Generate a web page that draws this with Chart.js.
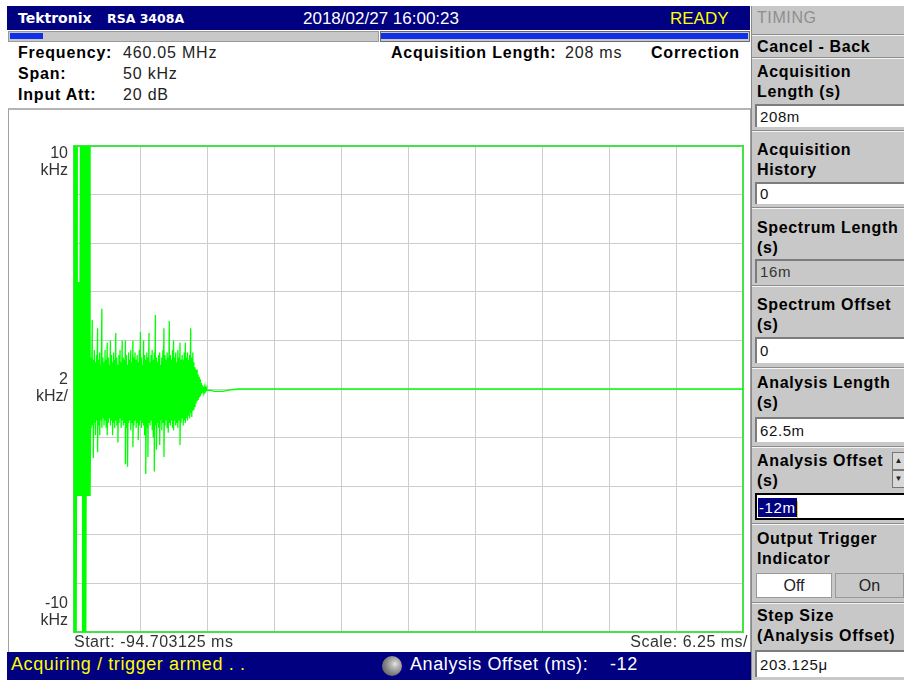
<!DOCTYPE html>
<html>
<head>
<meta charset="utf-8">
<script src="https://cdn.jsdelivr.net/npm/chart.js@4.4.1/dist/chart.umd.min.js"></script>
<style>
body { margin: 0; width: 904px; height: 680px; background: #fff; position: relative; overflow: hidden; font-family: "Liberation Sans", Arial, sans-serif; color: #222; }
.abs { position: absolute; white-space: nowrap; }
.bold { font-weight: bold; color: #000; letter-spacing: 0.7px; }
.hdr { font-size: 16px; line-height: 21px; letter-spacing: 0.8px; }
.side { font-size: 16px; line-height: 20px; font-weight: bold; color: #000; left: 757px; letter-spacing: 0.65px; }
.sep { left: 752px; width: 152px; height: 1px; background: #f4f4f4; border-top: 1px solid #8c8c8c; }
.box { left: 755px; width: 149px; background: #fff; border-top: 2px solid #7c7c7c; border-left: 2px solid #7c7c7c; box-sizing: border-box; font-size: 15px; padding-left: 3px; color: #111; letter-spacing: 0.6px; }
.status { font-size: 18px; letter-spacing: 0.6px; top: 654px; }
</style>
</head>
<body>

<!-- title bar -->
<div class="abs" style="left:7px;top:6px;width:743px;height:24px;background:#000080;"></div>
<div class="abs" style="left:18px;top:10px;font-family:'DejaVu Sans';font-weight:bold;font-size:14px;color:#fff;">Tektronix</div>
<div class="abs" style="left:107px;top:11px;font-family:'DejaVu Sans';font-weight:bold;font-size:12.5px;color:#fff;">RSA 3408A</div>
<div class="abs" style="left:303px;top:9px;font-size:17px;color:#fff;">2018/02/27 16:00:23</div>
<div class="abs" style="left:670px;top:9px;font-size:17px;color:#ffff00;">READY</div>

<!-- progress bars -->
<div class="abs" style="left:8px;top:31px;width:369px;height:9px;background:#c8c8c8;border:1px solid #9a9a9a;"></div>
<div class="abs" style="left:10px;top:33px;width:33px;height:6px;background:#1030e8;"></div>
<div class="abs" style="left:380px;top:31px;width:368px;height:9px;background:#c8c8c8;border:1px solid #6a6a6a;"></div>
<div class="abs" style="left:381px;top:33px;width:367px;height:6px;background:#1030e8;"></div>

<!-- header info -->
<div class="abs hdr bold" style="left:18px;top:42px;">Frequency:</div>
<div class="abs hdr bold" style="left:18px;top:63px;">Span:</div>
<div class="abs hdr bold" style="left:18px;top:84px;">Input Att:</div>
<div class="abs hdr" style="left:123px;top:42px;">460.05 MHz</div>
<div class="abs hdr" style="left:123px;top:63px;">50 kHz</div>
<div class="abs hdr" style="left:123px;top:84px;">20 dB</div>
<div class="abs hdr bold" style="left:391px;top:42px;">Acquisition Length:</div>
<div class="abs hdr" style="left:565px;top:42px;">208 ms</div>
<div class="abs hdr bold" style="left:651px;top:42px;">Correction</div>

<!-- plot panel -->
<div class="abs" style="left:8px;top:108px;width:741px;height:543px;border:1px solid #a0a0a0;border-top:2px solid #b4b4b4;background:#fff;"></div>
<div class="abs" style="left:10px;top:111px;width:740px;height:540px;"><canvas id="myChart"></canvas></div>

<!-- status bar -->
<div class="abs" style="left:7px;top:652px;width:744px;height:28px;background:#000080;"></div>
<div class="abs status" style="left:11px;color:#ffff00;">Acquiring / trigger armed . .</div>
<div class="abs" style="left:382px;top:656px;width:20px;height:20px;border-radius:50%;background:radial-gradient(circle at 65% 40%, #e8e8e8 0, #bdbdbd 18%, #7a7a7a 60%, #555 100%);"></div>
<div class="abs status" style="left:410px;color:#fff;">Analysis Offset (ms):</div>
<div class="abs status" style="left:610px;color:#fff;">-12</div>

<!-- side panel -->
<div class="abs" style="left:751px;top:6px;width:153px;height:674px;background:#c8c8c8;border-left:1px solid #8a8a8a;"></div>
<div class="abs" style="left:757px;top:8px;font-size:16px;line-height:20px;color:#8e8e8e;letter-spacing:0.6px;">TIMING</div>
<div class="abs sep" style="top:34px;"></div>
<div class="abs side" style="top:37px;">Cancel - Back</div>
<div class="abs sep" style="top:57px;"></div>
<div class="abs side" style="top:62px;">Acquisition<br>Length (s)</div>
<div class="abs box" style="top:104px;height:23px;line-height:21px;">208m</div>
<div class="abs sep" style="top:130px;"></div>
<div class="abs side" style="top:140px;">Acquisition<br>History</div>
<div class="abs box" style="top:182px;height:22px;line-height:20px;">0</div>
<div class="abs sep" style="top:207px;"></div>
<div class="abs side" style="top:218px;">Spectrum Length<br>(s)</div>
<div class="abs box" style="top:259px;height:24px;line-height:22px;background:#c8c8c8;color:#333;">16m</div>
<div class="abs sep" style="top:285px;"></div>
<div class="abs side" style="top:295px;">Spectrum Offset<br>(s)</div>
<div class="abs box" style="top:337px;height:26px;line-height:24px;">0</div>
<div class="abs sep" style="top:367px;"></div>
<div class="abs side" style="top:373px;">Analysis Length<br>(s)</div>
<div class="abs box" style="top:417px;height:25px;line-height:23px;">62.5m</div>
<div class="abs sep" style="top:446px;"></div>
<div class="abs side" style="top:451px;">Analysis Offset<br>(s)</div>
<div class="abs" style="left:892px;top:452px;width:11px;height:16px;background:#d8d8d8;border:1px solid #777;font-size:8px;line-height:16px;text-align:center;">&#9650;</div>
<div class="abs" style="left:892px;top:470px;width:11px;height:16px;background:#d8d8d8;border:1px solid #777;font-size:8px;line-height:16px;text-align:center;">&#9660;</div>
<div class="abs box" style="top:493px;height:27px;line-height:25px;border:2px solid #000;border-right:none;padding-left:1px;"><span style="background:#000080;color:#fff;padding:1px 1px;">-12m</span><span style="display:inline-block;width:1px;height:17px;background:#e8d000;vertical-align:middle;"></span></div>
<div class="abs sep" style="top:523px;"></div>
<div class="abs side" style="top:529px;">Output Trigger<br>Indicator</div>
<div class="abs" style="left:756px;top:573px;width:76px;height:25px;background:#fff;border:1px solid #999;box-sizing:border-box;font-size:16px;line-height:23px;text-align:center;">Off</div>
<div class="abs" style="left:835px;top:573px;width:69px;height:25px;background:#c8c8c8;border:1px solid #999;box-sizing:border-box;font-size:16px;line-height:23px;text-align:center;">On</div>
<div class="abs sep" style="top:602px;"></div>
<div class="abs side" style="top:606px;">Step Size<br>(Analysis Offset)</div>
<div class="abs box" style="top:650px;height:27px;line-height:25px;">203.125&mu;</div>

<script>
// Axis setup: time in ms, deviation in kHz
var xTicks = [-94.703125, -88.453125, -82.203125, -75.953125, -69.703125, -63.453125,
              -57.203125, -50.953125, -44.703125, -38.453125, -32.203125];
var yTicks = [-10, -8, -6, -4, -2, 0, 2, 4, 6, 8, 10];
var yLabelValues = [10, 0, -10];
var yLabelText = [['10', 'kHz'], ['2', 'kHz/'], ['-10', 'kHz']];
var startLabel = 'Start: -94.703125 ms';
var scaleLabel = 'Scale: 6.25 ms/';

// Trace: peak high / low per sample column (kHz)
var traceTime = [-94.7, -94.6, -94.5, -94.4, -94.3, -94.2, -94.1, -94.0, -93.9, -93.8,
                 -93.7, -93.6, -93.5, -93.4, -93.3, -93.2, -93.1, -93.0, -92.9, -92.8,
                 -92.7, -92.6, -92.5, -92.4, -92.3, -92.2, -92.1, -92.0, -91.9, -91.8,
                 -91.7, -91.6, -91.5, -91.4, -91.3, -91.2, -91.1, -91.0, -90.9, -90.8,
                 -90.7, -90.6, -90.5, -90.4, -90.3, -90.2, -90.1, -90.0, -89.9, -89.8,
                 -89.7, -89.6, -89.5, -89.4, -89.3, -89.2, -89.1, -89.0, -88.9, -88.8,
                 -88.7, -88.6, -88.5, -88.4, -88.3, -88.2, -88.1, -88.0, -87.9, -87.8,
                 -87.7, -87.6, -87.5, -87.4, -87.3, -87.2, -87.1, -87.0, -86.9, -86.8,
                 -86.7, -86.6, -86.5, -86.4, -86.3, -86.2, -86.1, -86.0, -85.9, -85.8,
                 -85.7, -85.6, -85.5, -85.4, -85.3, -85.2, -85.1, -85.0, -84.9, -84.8,
                 -84.7, -84.6, -84.5, -84.4, -84.3, -84.2, -84.1, -84.0, -83.9, -83.8,
                 -83.7, -83.6, -83.5, -83.4, -83.3, -83.2, -83.1, -83.0, -82.9, -82.8,
                 -82.7, -82.6, -82.5, -82.4, -82.3];
var traceHigh = [10, 10, 10, 10, 4.4, 4.4, 10, 10, 10, 10,
                 10, 10, 10, 10, 10, 10, 1.3, 2.84, 1.2, 1.6,
                 1.1, 1.4, 2.5, 1.2, 1.5, 1.0, 3.3, 1.3, 1.1, 1.6,
                 1.2, 1.9, 1.3, 1.0, 2.0, 1.4, 1.1, 1.5, 1.2, 2.3,
                 1.3, 1.0, 1.4, 1.6, 1.1, 2.0, 1.3, 1.2, 2.0, 1.4,
                 1.0, 1.5, 1.2, 1.6, 1.1, 2.0, 1.3, 1.5, 1.2, 1.4,
                 1.1, 1.6, 2.35, 1.3, 1.0, 2.0, 1.4, 1.2, 1.5, 1.3,
                 2.3, 1.1, 1.4, 1.6, 1.2, 1.5, 3.05, 1.3, 1.1, 1.4,
                 1.5, 1.0, 1.3, 1.6, 2.5, 1.4, 1.2, 1.5, 1.3, 2.8,
                 1.4, 1.2, 1.6, 2.0, 1.3, 1.5, 1.1, 1.6, 1.3, 1.9,
                 1.2, 1.4, 1.2, 1.5, 1.9, 1.3, 1.5, 1.2, 1.4, 2.5,
                 1.3, 1.5, 1.1, 0.9, 0.8, 0.8, 0.6, 0.5, 0.4, 0.25,
                 0.15, 0.1, 0.08, 0.05, 0.03];
var traceLow = [-10, -10, -10, -4.4, -4.4, -4.4, -4.4, -4.4, -10, -10,
                -10, -10, -4.4, -4.4, -4.4, -4.4, -1.6, -1.5, -2.84, -1.4,
                -1.9, -1.3, -2.6, -1.5, -1.9, -1.3, -1.6, -1.2, -1.5, -1.3,
                -1.6, -1.9, -1.4, -1.2, -1.5, -1.3, -1.9, -1.4, -1.6, -1.3,
                -1.5, -2.2, -1.4, -1.2, -1.6, -1.3, -1.5, -1.4, -3.1, -1.6,
                -3.2, -1.4, -1.3, -1.7, -1.4, -2.4, -1.5, -1.3, -1.6, -1.4,
                -2.1, -1.5, -1.3, -1.6, -1.4, -1.5, -1.9, -3.5, -1.6, -2.8,
                -1.4, -1.5, -1.3, -1.7, -2.0, -3.4, -1.5, -2.5, -1.4, -1.6,
                -2.3, -1.3, -1.7, -1.4, -2.8, -1.5, -1.3, -1.6, -1.8, -1.4,
                -1.5, -1.3, -1.6, -1.7, -1.3, -1.5, -1.4, -1.6, -1.3, -2.3,
                -1.4, -1.2, -1.5, -1.3, -1.4, -1.2, -1.3, -1.1, -1.2, -1.0,
                -1.15, -0.9, -0.85, -0.75, -0.6, -0.5, -0.45, -0.35, -0.3, -0.2,
                -0.15, -0.12, -0.1, -0.08, -0.06];

// settled part of the trace
var flatTime = [-82.0, -81.6, -80.8, -80.0, -79.3, -32.203125];
var flatValue = [-0.05, -0.1, -0.1, -0.03, 0, 0];

var traceColor = '#00ff00';
var frameColor = '#44e244';
var gridColor = '#cdcdcd';
var labelFont = '16px "Liberation Sans", Arial, sans-serif';

// build the point list: each column goes high then low
var points = [];
for (var i = 0; i < traceTime.length; i++) {
    points.push({ x: traceTime[i], y: traceHigh[i] });
    points.push({ x: traceTime[i], y: traceLow[i] });
}
for (var j = 0; j < flatTime.length; j++) {
    points.push({ x: flatTime[j], y: flatValue[j] });
}

// green frame round the graticule and the screen labels
var screenLabels = {
    id: 'screenLabels',
    beforeDatasetsDraw: function(chart) {
        var c = chart.ctx, a = chart.chartArea;
        c.save();
        c.strokeStyle = frameColor;
        c.lineWidth = 2;
        c.strokeRect(a.left, a.top, a.right - a.left, a.bottom - a.top);
        c.restore();
    },
    afterDraw: function(chart) {
        var c = chart.ctx, a = chart.chartArea, y = chart.scales.y;
        c.save();
        c.fillStyle = '#333';
        c.font = labelFont;
        c.textBaseline = 'top';
        c.textAlign = 'right';
        // top label hangs below its line, middle one sits on it, bottom one above
        var shift = [0, -17, -36];
        for (var k = 0; k < yLabelValues.length; k++) {
            var top = y.getPixelForValue(yLabelValues[k]) + shift[k];
            var lines = yLabelText[k];
            for (var m = 0; m < lines.length; m++) {
                c.fillText(lines[m], a.left - 6, top + m * 17);
            }
        }
        c.letterSpacing = '0.5px';
        c.textAlign = 'left';
        c.fillText(startLabel, a.left, a.bottom + 3);
        c.textAlign = 'right';
        c.fillText(scaleLabel, a.right + 5, a.bottom + 3);
        c.restore();
    }
};

var ctx = document.getElementById('myChart').getContext('2d');
var myChart = new Chart(ctx, {
    type: 'scatter',
    data: {
        datasets: [{
            data: points,
            showLine: true,
            borderColor: traceColor,
            borderWidth: 1.3,
            pointRadius: 0,
            tension: 0
        }]
    },
    options: {
        responsive: true,
        maintainAspectRatio: false,
        animation: false,
        layout: { padding: { left: 64, top: 35, right: 7, bottom: 19 } },
        plugins: { legend: { display: false }, tooltip: { enabled: false } },
        scales: {
            x: {
                type: 'linear',
                min: xTicks[0],
                max: xTicks[xTicks.length - 1],
                afterBuildTicks: function(scale) {
                    scale.ticks = xTicks.map(function(v) { return { value: v }; });
                },
                ticks: { display: false },
                grid: { color: gridColor, drawTicks: false },
                border: { display: false }
            },
            y: {
                type: 'linear',
                min: yTicks[0],
                max: yTicks[yTicks.length - 1],
                afterBuildTicks: function(scale) {
                    scale.ticks = yTicks.map(function(v) { return { value: v }; });
                },
                ticks: { display: false },
                grid: { color: gridColor, drawTicks: false },
                border: { display: false }
            }
        }
    },
    plugins: [screenLabels]
});
</script>
</body>
</html>
